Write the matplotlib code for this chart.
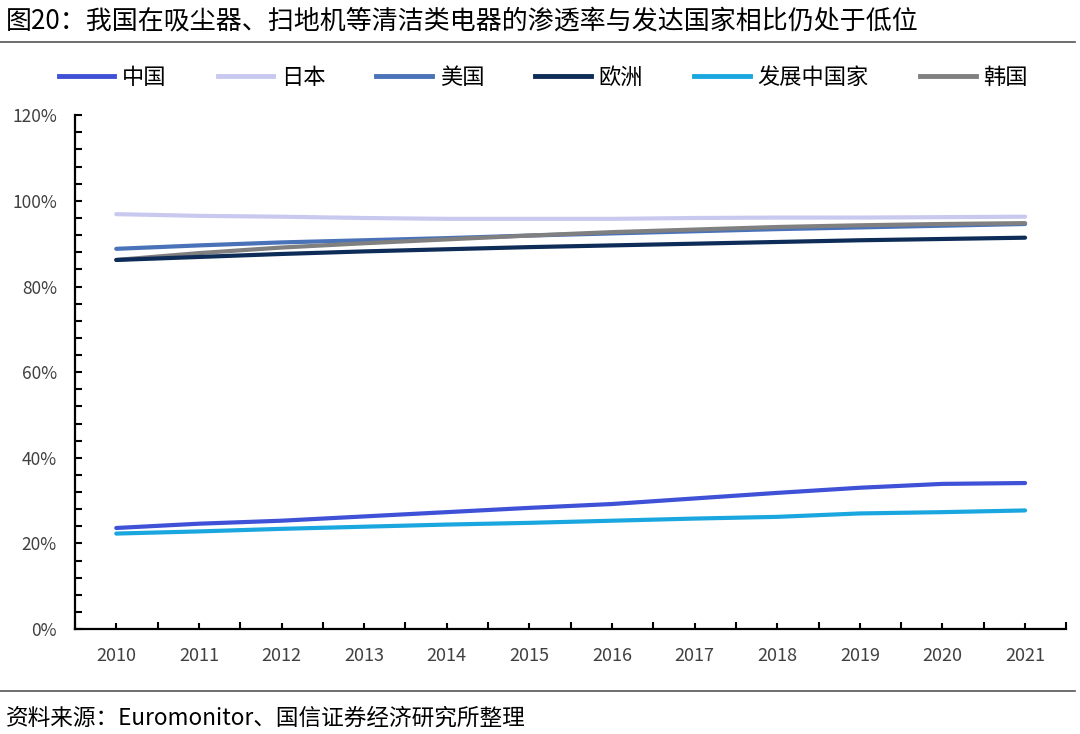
import matplotlib
matplotlib.use("Agg")
import matplotlib.pyplot as plt
from matplotlib.ticker import MultipleLocator, FuncFormatter
from matplotlib.lines import Line2D

plt.rcParams['font.family'] = ['Noto Sans CJK SC', 'DejaVu Sans']

years = [2010, 2011, 2012, 2013, 2014, 2015, 2016, 2017, 2018, 2019, 2020, 2021]
china = [23.6, 24.6, 25.3, 26.3, 27.3, 28.3, 29.2, 30.5, 31.8, 33.0, 33.9, 34.1]
japan = [96.9, 96.5, 96.3, 96.0, 95.8, 95.8, 95.8, 96.0, 96.1, 96.1, 96.2, 96.3]
usa = [88.8, 89.6, 90.3, 90.8, 91.3, 91.9, 92.4, 92.9, 93.4, 93.8, 94.2, 94.6]
europe = [86.2, 86.9, 87.6, 88.2, 88.7, 89.2, 89.6, 90.0, 90.4, 90.8, 91.1, 91.4]
developing = [22.3, 22.8, 23.4, 23.9, 24.4, 24.8, 25.3, 25.8, 26.2, 27.0, 27.3, 27.7]
korea = [86.2, 87.8, 89.1, 90.1, 91.0, 91.9, 92.7, 93.3, 93.9, 94.3, 94.6, 94.8]

series_names = ['中国', '日本', '美国', '欧洲', '发展中国家', '韩国']
series_values = [china, japan, usa, europe, developing, korea]
colors = ['#3f51d6', '#c9c9f0', '#4a72b8', '#0e2c58', '#1aa7df', '#808080']

title = '图20：我国在吸尘器、扫地机等清洁类电器的渗透率与发达国家相比仍处于低位'
source = '资料来源：Euromonitor、国信证券经济研究所整理'

fig = plt.figure(figsize=(10.8, 7.34), dpi=100)
ax = fig.add_axes([0.0694, 0.143, 0.918, 0.7])

order = [1, 2, 5, 3, 0, 4]
for i in order:
    ax.plot(years, series_values[i], color=colors[i], lw=3.0, solid_capstyle='round')

ax.set_xlim(2009.5, 2021.5)
ax.set_ylim(0, 120)
ax.set_xticks(years)
ax.set_xticklabels([str(y) for y in years])
ax.set_xticks([y + 0.5 for y in [2009] + years], minor=True)
ax.yaxis.set_major_locator(MultipleLocator(20))
ax.yaxis.set_minor_locator(MultipleLocator(4))
ax.yaxis.set_major_formatter(FuncFormatter(lambda v, p: f'{int(v)}%'))

for s in ['top', 'right']:
    ax.spines[s].set_visible(False)
for s in ['left', 'bottom']:
    ax.spines[s].set_linewidth(1.6)
    ax.spines[s].set_color('black')

ax.tick_params(axis='y', which='both', direction='in', length=5, width=1.5, labelsize=12.5,
               labelcolor='#404040', pad=13)
ax.tick_params(axis='x', which='major', direction='in', length=4, width=1.5, labelsize=13,
               labelcolor='#404040', pad=13)
ax.tick_params(axis='x', which='minor', direction='in', length=5, width=1.5)

handles = [Line2D([0], [0], color=colors[i], lw=3.5) for i in range(6)]
fig.legend(handles, series_names, loc='center', bbox_to_anchor=(0.503, 0.895), ncol=6,
           frameon=False, fontsize=16, handlelength=2.5, columnspacing=2.3, handletextpad=0.35)

fig.text(0.005, 0.972, title, fontsize=18.7, ha='left', va='center', color='black')
fig.add_artist(Line2D([0, 0.995], [0.943, 0.943], color='#555555', lw=1.2))
fig.add_artist(Line2D([0, 0.995], [0.058, 0.058], color='#555555', lw=1.2))
fig.text(0.005, 0.022, source, fontsize=16.3, ha='left', va='center', color='black')

fig.savefig('out.png', dpi=100)
